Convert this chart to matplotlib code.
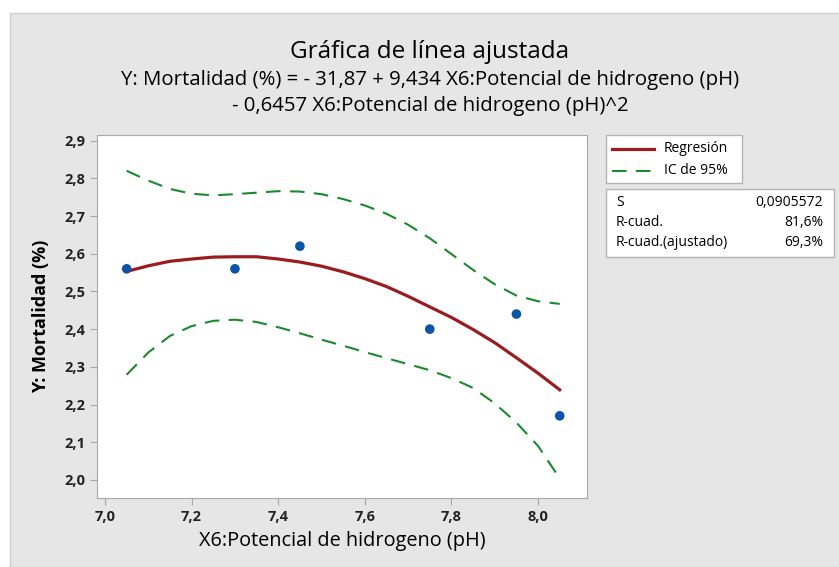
import matplotlib.pyplot as plt
from matplotlib.lines import Line2D
from matplotlib.patches import Rectangle

plt.rcParams['font.family'] = ['Open Sans', 'DejaVu Sans']

# observed points
ph = [7.05, 7.30, 7.45, 7.75, 7.95, 8.05]
mortalidad = [2.56, 2.56, 2.62, 2.40, 2.44, 2.17]

# fitted line and 95% CI
x_fit = [7.05, 7.10, 7.15, 7.20, 7.25, 7.30, 7.35, 7.40, 7.45, 7.50, 7.55,
         7.60, 7.65, 7.70, 7.75, 7.80, 7.85, 7.90, 7.95, 8.00, 8.05]
y_fit = [2.553, 2.568, 2.580, 2.586, 2.591, 2.592, 2.592, 2.586, 2.578, 2.567, 2.552,
         2.534, 2.513, 2.487, 2.459, 2.431, 2.399, 2.364, 2.324, 2.283, 2.239]
ci_upper = [2.820, 2.794, 2.772, 2.759, 2.755, 2.758, 2.762, 2.766, 2.765, 2.758, 2.745,
            2.728, 2.706, 2.677, 2.641, 2.599, 2.557, 2.519, 2.489, 2.474, 2.467]
ci_lower = [2.279, 2.338, 2.382, 2.408, 2.422, 2.425, 2.419, 2.405, 2.389, 2.372, 2.356,
            2.339, 2.323, 2.307, 2.291, 2.270, 2.244, 2.203, 2.152, 2.090, 2.004]

xticks = [7.0, 7.2, 7.4, 7.6, 7.8, 8.0]
xtick_labels = ['7,0', '7,2', '7,4', '7,6', '7,8', '8,0']
yticks = [2.0, 2.1, 2.2, 2.3, 2.4, 2.5, 2.6, 2.7, 2.8, 2.9]
ytick_labels = ['2,0', '2,1', '2,2', '2,3', '2,4', '2,5', '2,6', '2,7', '2,8', '2,9']

legend_labels = ['Regresión', 'IC de 95%']
stats_names = ['S', 'R-cuad.', 'R-cuad.(ajustado)']
stats_values = ['0,0905572', '81,6%', '69,3%']

red = '#9b1c1f'
green = '#1a8a2e'
blue = '#0a55a5'
grey_bg = '#e6e6e6'
box_edge = '#b4b4b4'

W, H = 839, 567
fig = plt.figure(figsize=(W / 100, H / 100), dpi=100)
fig.patch.set_facecolor('white')
fig.patches.append(Rectangle((10 / W, 0), 1, 1 - 13 / H, transform=fig.transFigure,
                             facecolor=grey_bg, edgecolor='#cfcfcf', lw=1, zorder=-10))

ax = fig.add_axes([97 / W, 1 - 498 / H, 490 / W, 363 / H])
ax.set_facecolor('white')

ax.plot(x_fit, y_fit, color=red, lw=2.3, zorder=3)
ax.plot(x_fit, ci_upper, color=green, lw=1.5, dashes=(7, 4.5), zorder=2)
ax.plot(x_fit, ci_lower, color=green, lw=1.5, dashes=(7, 4.5), zorder=2)
ax.scatter(ph, mortalidad, s=48, color=blue, zorder=4, edgecolors='none')

ax.set_xlim(6.9815, 8.113)
ax.set_ylim(1.952, 2.915)
ax.set_xticks(xticks, xtick_labels, fontweight='bold')
ax.set_yticks(yticks, ytick_labels, fontweight='bold')
for s in ax.spines.values():
    s.set_color('#a8a8a8')
ax.tick_params(direction='out', length=5, color='#a8a8a8', labelsize=10.5,
               labelcolor='#222222')
ax.set_xlabel('X6:Potencial de hidrogeno (pH)', fontsize=14.3, labelpad=5)
ax.set_ylabel('Y: Mortalidad (%)', fontsize=13, fontweight='bold', labelpad=10)

fig.text(430 / W, 1 - 52 / H, 'Gráfica de línea ajustada', fontsize=17.5,
         ha='center', va='center')
fig.text(430 / W, 1 - 80 / H,
         'Y: Mortalidad (%) = - 31,87 + 9,434 X6:Potencial de hidrogeno (pH)',
         fontsize=14.7, ha='center', va='center')
fig.text(430 / W, 1 - 106 / H, '- 0,6457 X6:Potencial de hidrogeno (pH)^2',
         fontsize=14.7, ha='center', va='center')

# legend box
fig.patches.append(Rectangle((606 / W, 1 - 183 / H), 136 / W, 48 / H,
                             transform=fig.transFigure, facecolor='white',
                             edgecolor=box_edge, lw=1))
fig.add_artist(Line2D([612 / W, 654 / W], [1 - 149 / H] * 2, color=red, lw=2.3))
fig.add_artist(Line2D([612 / W, 654 / W], [1 - 171 / H] * 2, color=green, lw=1.5,
                      dashes=(7, 4.5)))
for i, lab in enumerate(legend_labels):
    fig.text(664 / W, 1 - (148 + i * 22) / H, lab, fontsize=10, ha='left', va='center')

# stats box
fig.patches.append(Rectangle((606 / W, 1 - 257 / H), 228 / W, 68 / H,
                             transform=fig.transFigure, facecolor='white',
                             edgecolor=box_edge, lw=1))
for i, (n, v) in enumerate(zip(stats_names, stats_values)):
    yy = 1 - (203 + i * 19.5) / H
    fig.text(616 / W, yy, n, fontsize=10, ha='left', va='center')
    fig.text(823 / W, yy, v, fontsize=10, ha='right', va='center')

fig.savefig('out.png', dpi=100)
